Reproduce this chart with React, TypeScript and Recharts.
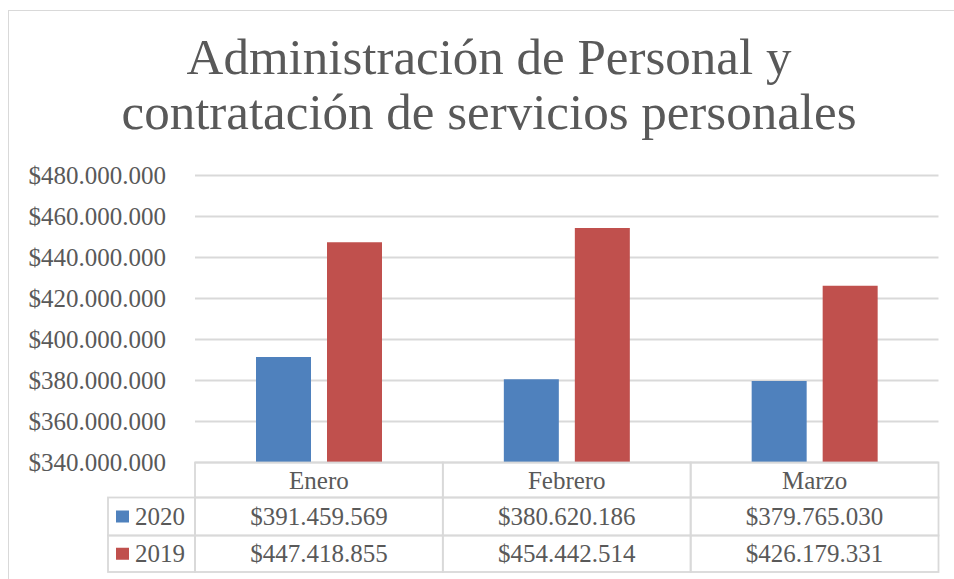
import { BarChart, Bar, XAxis, YAxis, CartesianGrid } from "recharts";

const months = ["Enero", "Febrero", "Marzo"];
const values2020 = [391459569, 380620186, 379765030];
const values2019 = [447418855, 454442514, 426179331];
const seriesNames = ["2020", "2019"];
const yTicks = [340000000, 360000000, 380000000, 400000000, 420000000, 440000000, 460000000, 480000000];

const BLUE = "#4F81BD";
const RED = "#C0504D";
const TEXT = "#595959";
const GRID = "#D9D9D9";
const FONT = "'Liberation Serif', 'Times New Roman', serif";

const data = months.map((m, i) => ({ month: m, y2020: values2020[i], y2019: values2019[i] }));

// chart layout (page coords, chart sits at 0,0)
const W = 954;
const H = 579;
const PLOT_LEFT = 195;
const PLOT_RIGHT = 938.5;
const PLOT_TOP = 175.5;
const PLOT_BOTTOM = 462.5;
const BAND = (PLOT_RIGHT - PLOT_LEFT) / months.length;
const ROWS = [PLOT_BOTTOM, 497.5, 535.5, 572];
const LEGEND_LEFT = 108;

const money = (n: number) => "$" + String(n).replace(/\B(?=(\d{3})+(?!\d))/g, ".");

// data table under the plot, one column per category tick
const TableTick = ({ x, payload }: any) => {
  const i = payload.index;
  const left = x - BAND / 2;
  const rowValues = [values2020[i], values2019[i]];
  const mid = (r: number) => (ROWS[r] + ROWS[r + 1]) / 2 + 8.5;
  return (
    <g>
      {[0, 1, 2].map((r) => (
        <rect
          key={r}
          x={left}
          y={ROWS[r]}
          width={BAND}
          height={ROWS[r + 1] - ROWS[r]}
          fill="none"
          stroke={GRID}
          strokeWidth={1.8}
        />
      ))}
      <text x={x} y={mid(0)} textAnchor="middle" fill={TEXT} fontSize={25} fontFamily={FONT}>
        {payload.value}
      </text>
      {rowValues.map((v, r) => (
        <text key={r} x={x} y={mid(r + 1)} textAnchor="middle" fill={TEXT} fontSize={25} fontFamily={FONT}>
          {money(v)}
        </text>
      ))}
      {i === 0 &&
        seriesNames.map((s, r) => (
          <g key={s}>
            <rect
              x={LEGEND_LEFT}
              y={ROWS[r + 1]}
              width={left - LEGEND_LEFT}
              height={ROWS[r + 2] - ROWS[r + 1]}
              fill="none"
              stroke={GRID}
              strokeWidth={1.8}
            />
            <rect x={LEGEND_LEFT + 8} y={(ROWS[r + 1] + ROWS[r + 2]) / 2 - 6} width={13} height={12} fill={r === 0 ? BLUE : RED} />
            <text x={LEGEND_LEFT + 27} y={mid(r + 1)} fill={TEXT} fontSize={25} fontFamily={FONT}>
              {s}
            </text>
          </g>
        ))}
    </g>
  );
};

export default function App() {
  return (
    <div style={{ position: "absolute", left: 0, top: 0, width: W, height: H, overflow: "hidden", background: "#fff" }}>
      <div
        style={{
          position: "absolute",
          left: 8,
          top: 10,
          width: 980,
          height: 620,
          border: `1.5px solid ${GRID}`,
        }}
      />
      <div
        style={{
          position: "absolute",
          left: 0,
          top: 30.3,
          width: 978,
          textAlign: "center",
          fontFamily: FONT,
          fontSize: 51,
          lineHeight: "55px",
          color: TEXT,
        }}
      >
        Administración de Personal y
        <br />
        contratación de servicios personales
      </div>
      <div style={{ position: "absolute", left: 0, top: 0 }}>
        <BarChart
          width={W}
          height={H}
          data={data}
          margin={{ top: PLOT_TOP, right: W - PLOT_RIGHT, left: 0, bottom: 0 }}
          barCategoryGap={61}
          barGap={16}
        >
          <CartesianGrid vertical={false} stroke={GRID} strokeWidth={1.8} />
          <XAxis
            dataKey="month"
            axisLine={false}
            tickLine={false}
            height={H - PLOT_BOTTOM}
            interval={0}
            tick={<TableTick />}
          />
          <YAxis
            width={PLOT_LEFT}
            domain={[340000000, 480000000]}
            ticks={yTicks}
            axisLine={false}
            tickLine={false}
            tickMargin={23}
            tickFormatter={money}
            tick={{ fill: TEXT, fontSize: 25, fontFamily: FONT }}
          />
          <Bar dataKey="y2020" name="2020" fill={BLUE} isAnimationActive={false} />
          <Bar dataKey="y2019" name="2019" fill={RED} isAnimationActive={false} />
        </BarChart>
      </div>
    </div>
  );
}
